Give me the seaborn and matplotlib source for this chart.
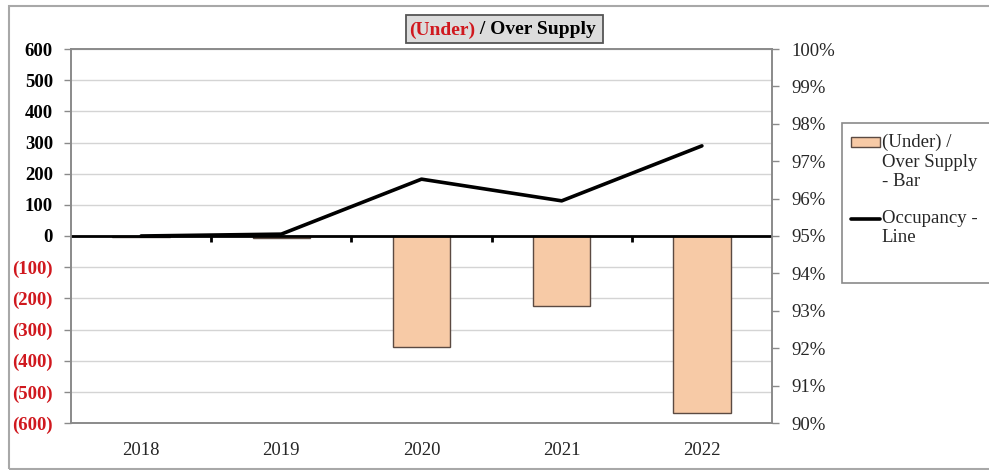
import matplotlib
matplotlib.use("Agg")
import matplotlib.pyplot as plt
import matplotlib.transforms as mtransforms
from matplotlib.patches import Patch, Rectangle
from matplotlib.lines import Line2D
from matplotlib.legend_handler import HandlerPatch, HandlerLine2D
import numpy as np
import seaborn as sns
import pandas as pd

# Data
years = ["2018", "2019", "2020", "2021", "2022"]
supply = [-2, -8, -355, -225, -568]          # (under) / over supply, units
occupancy = [95.0, 95.05, 96.52, 95.94, 97.41]  # occupancy, percent

left_ticks = [600, 500, 400, 300, 200, 100, 0, -100, -200, -300, -400, -500, -600]
left_labels = ["600", "500", "400", "300", "200", "100", "0",
               "(100)", "(200)", "(300)", "(400)", "(500)", "(600)"]
right_ticks = [90, 91, 92, 93, 94, 95, 96, 97, 98, 99, 100]
right_labels = [f"{t}%" for t in right_ticks]

sns.set_theme(style="white")
plt.rcParams["font.family"] = ["Liberation Serif", "DejaVu Serif"]

FS = 13.5
BAR = "#f7caa6"
EDGE = "#5b4a42"
RED = "#d0181e"
GRID = "#d4d4d4"
FRAME = "#8a8a8a"

df = pd.DataFrame({"year": years, "supply": supply, "occ": occupancy})

fig = plt.figure(figsize=(9.89, 4.70), dpi=100)
W, H = 989, 470
ax = fig.add_axes([71 / W, 1 - 423 / H, (772 - 71) / W, (423 - 49) / H])

sns.barplot(data=df, x="year", y="supply", ax=ax, color=BAR, width=0.41,
            edgecolor=EDGE, linewidth=1.0, saturation=1)
ax.axhline(0, color="black", linewidth=2, zorder=3)
ax.set_ylim(-600, 600)
ax.set_xlim(-0.5, len(years) - 0.5)
ax.set_yticks(left_ticks)
ax.set_yticklabels(left_labels, fontsize=FS, fontweight="bold")
for lab, val in zip(ax.get_yticklabels(), left_ticks):
    lab.set_color(RED if val < 0 else "black")
ax.set_xlabel("")
ax.set_ylabel("")
ax.tick_params(axis="x", length=0, labelsize=FS, pad=14)
ax.tick_params(axis="y", left=True, length=5, width=1, color=FRAME, pad=8)
ax.grid(axis="y", color=GRID, linewidth=1)
ax.set_axisbelow(True)
for s in ax.spines.values():
    s.set_color(FRAME)
    s.set_linewidth(1.2)

# Tick marks between categories on the zero line
sec = ax.secondary_xaxis(0.5)
sec.set_alignment("bottom")
sec.set_xticks([i - 0.5 for i in range(1, len(years))])
sec.tick_params(axis="x", direction="out", length=4, width=2, color="black",
                bottom=True, top=False, labelbottom=False, labeltop=False)
sec.spines["bottom"].set_visible(False)
sec.spines["top"].set_visible(False)

ax2 = ax.twinx()
sns.pointplot(data=df, x="year", y="occ", ax=ax2, color="black", marker="",
              linewidth=2.6, errorbar=None)
ax2.set_ylim(90, 100)
ax2.set_xlim(-0.5, len(years) - 0.5)
ax2.set_yticks(right_ticks)
ax2.set_yticklabels(right_labels, fontsize=FS)
ax2.set_ylabel("")
ax2.set_xlabel("")
ax2.tick_params(axis="y", right=True, length=5, width=1, color=FRAME, pad=9)
for s in ax2.spines.values():
    s.set_color(FRAME)
    s.set_linewidth(1.2)
ax2.grid(False)

# Title: red "(Under)" followed by black " / Over Supply" inside a grey box
TFS = 14
fig.patches.append(Rectangle((406 / W, 1 - 43 / H), (603 - 406) / W, (43 - 15) / H,
                             transform=fig.transFigure, facecolor="#dcdcdc",
                             edgecolor="#555555", linewidth=1.3, zorder=0))
t1 = fig.text(409 / W, 1 - 30 / H, "(Under)", color=RED, fontsize=TFS,
              fontweight="bold", va="center", ha="left")
fig.canvas.draw()
r = fig.canvas.get_renderer()
e1 = t1.get_window_extent(r)
fig.text(409 / W, 1 - 30 / H, " / Over Supply", color="black", fontsize=TFS,
         fontweight="bold", va="center", ha="left",
         transform=mtransforms.offset_copy(fig.transFigure, fig=fig,
                                           x=e1.width * 72 / fig.dpi, units="points"))


# Legend handles sit level with the first line of their labels
class TopPatch(HandlerPatch):
    def __init__(self, dy, **kw):
        super().__init__(**kw)
        self.dy = dy

    def create_artists(self, *args):
        arts = super().create_artists(*args)
        for a in arts:
            a.set_y(a.get_y() + self.dy)
        return arts


class TopLine(HandlerLine2D):
    def __init__(self, dy, **kw):
        super().__init__(**kw)
        self.dy = dy

    def create_artists(self, *args):
        arts = super().create_artists(*args)
        for a in arts:
            a.set_ydata(np.asarray(a.get_ydata(), dtype=float) + self.dy)
        return arts


PITCH = 14.0  # points between label lines
fig.patches.append(Rectangle((842 / W, 1 - 283 / H), (1000 - 842) / W, (283 - 123) / H,
                             transform=fig.transFigure, facecolor="white",
                             edgecolor=FRAME, linewidth=1.2, zorder=0))
handles = [Patch(facecolor=BAR, edgecolor=EDGE, linewidth=1.0),
           Line2D([], [], color="black", linewidth=2.6)]
labels = ["(Under) /\nOver Supply\n- Bar", "Occupancy -\nLine"]
leg = fig.legend(handles, labels, loc="upper left",
                 bbox_to_anchor=(851 / W, 1 - 134 / H), frameon=False,
                 fontsize=FS, handlelength=1.55, handleheight=0.45,
                 handletextpad=0.1, labelspacing=1.05, borderpad=0,
                 borderaxespad=0,
                 handler_map={Patch: TopPatch(PITCH),
                              Line2D: TopLine(PITCH / 2)})
for t in leg.get_texts():
    t.set_linespacing(1.18)

# Outer border
fig.patches.append(Rectangle((9 / W, 1 - 469 / H), (1000 - 9) / W, (469 - 6) / H,
                             transform=fig.transFigure, facecolor="none",
                             edgecolor="#a8a8a8", linewidth=1.5, zorder=0))

fig.savefig("out.png", dpi=100)
